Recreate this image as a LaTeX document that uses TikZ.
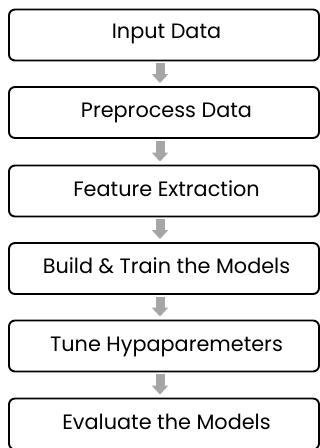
\documentclass[tikz,border=0pt]{standalone}
\usepackage{fontspec}
\setmainfont{Poppins}
\usetikzlibrary{arrows.meta}
\begin{document}
\begin{tikzpicture}[x=1pt,y=-1pt,
  box/.style={draw=black,line width=1.9pt,rounded corners=6pt,minimum width=310pt,minimum height=51pt,inner sep=0pt,fill=white},
  lbl/.style={font=\fontsize{20.8}{25}\selectfont,inner sep=0pt,anchor=base},
  conn/.style={draw=arrowgray,line width=9pt,-{Triangle[width=16pt,length=9pt]},shorten <=2pt,shorten >=3pt}]
\definecolor{arrowgray}{HTML}{A6A6A6}
\useasboundingbox (0,0) rectangle (320,448);
\clip (0,0) rectangle (320,448);
\fill[white] (0,0) rectangle (320,448);
\foreach \i/\y in {1/35,2/112.5,3/191,4/268.5,5/346,6/424}{
  \node[box] (b\i) at (164,\y) {};
}
\node[lbl] (t1) at ([xshift=2.5pt,yshift=-3.5pt]b1.center) {Input Data};
\node[lbl] (t2) at ([xshift=2.5pt,yshift=-4.8pt]b2.center) {Preprocess Data};
\node[lbl] (t3) at ([xshift=2.5pt,yshift=-5.5pt]b3.center) {Feature Extraction};
\node[lbl] (t4) at ([xshift=2.5pt,yshift=-4.8pt]b4.center) {Build \& Train the Models};
\node[lbl] (t5) at ([xshift=2.5pt,yshift=-5pt]b5.center) {Tune Hypaparemeters};
\node[lbl] (t6) at ([xshift=2.5pt,yshift=-5pt]b6.center) {Evaluate the Models};
\foreach \a/\b in {1/2,2/3,3/4,4/5,5/6}{
  \draw[conn] ([xshift=-4pt]b\a.south) -- ([xshift=-4pt]b\b.north);
}
\end{tikzpicture}
\end{document}
